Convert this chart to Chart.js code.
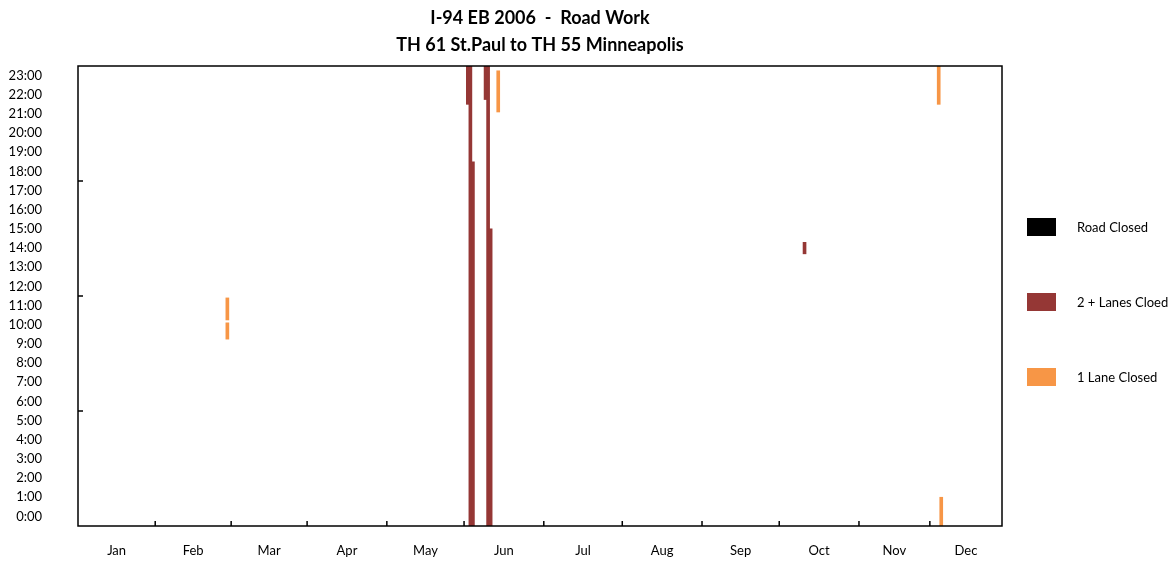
<!DOCTYPE html>
<html>
<head>
<meta charset="utf-8">
<script src="https://cdn.jsdelivr.net/npm/chart.js@4"></script>
<style>
  body { margin: 0; background: #fff; }
  canvas { display: block; }
</style>
</head>
<body>
<canvas id="roadwork" width="1174" height="563"></canvas>
<script>
// axis labels
var monthLabels = ["Jan", "Feb", "Mar", "Apr", "May", "Jun", "Jul", "Aug", "Sep", "Oct", "Nov", "Dec"];
// month boundaries on the day axis
var monthTicks = [0, 30.5, 60.5, 90.5, 122, 152.5, 184, 215, 246.5, 277, 308.5, 336.5, 365];
var hourLabels = ["0:00", "1:00", "2:00", "3:00", "4:00", "5:00", "6:00", "7:00", "8:00", "9:00", "10:00", "11:00",
  "12:00", "13:00", "14:00", "15:00", "16:00", "17:00", "18:00", "19:00", "20:00", "21:00", "22:00", "23:00"];
var hourTicks = [6, 12, 18];

// Road Closed - no closures this year
var closedDays = [];
var closedStart = [];
var closedEnd = [];

// 2 + Lanes closed
var lanes2Days = [154, 155, 156, 161, 162, 163, 287];
var lanes2Start = [22, 0, 0, 22.25, 0, 0, 14.2];
var lanes2End = [24, 24, 19, 24, 24, 15.5, 14.8];

// 1 Lane closed
var lane1Days = [59, 59, 166, 340, 341];
var lane1Start = [9.75, 10.75, 21.6, 22, 0];
var lane1End = [10.6, 11.9, 23.75, 24, 1.5];

function toBars(days, start, end) {
  var out = [];
  for (var i = 0; i < days.length; i++) {
    out.push({ x: days[i], y: [start[i], end[i]] });
  }
  return out;
}

var monthMids = [];
for (var m = 0; m < monthLabels.length; m++) {
  monthMids.push((monthTicks[m] + monthTicks[m + 1]) / 2);
}

// frame, inner tick marks and the legend on the right
var framePlugin = {
  id: "frame",
  afterDraw: function (chart) {
    var ctx = chart.ctx;
    var a = chart.chartArea;
    var xs = chart.scales.x;
    var ys = chart.scales.y;
    ctx.save();
    ctx.strokeStyle = "#000";
    ctx.lineWidth = 1.5;
    ctx.beginPath();
    for (var i = 1; i < monthTicks.length - 1; i++) {
      var px = xs.getPixelForValue(monthTicks[i]);
      ctx.moveTo(px, a.bottom);
      ctx.lineTo(px, a.bottom - 5);
    }
    for (var j = 0; j < hourTicks.length; j++) {
      var py = ys.getPixelForValue(hourTicks[j]);
      ctx.moveTo(a.left, py);
      ctx.lineTo(a.left + 5, py);
    }
    ctx.stroke();
    ctx.strokeRect(a.left, a.top, a.right - a.left, a.bottom - a.top);

    ctx.font = "13px Lato";
    ctx.textBaseline = "middle";
    var ds = chart.data.datasets;
    for (var k = 0; k < ds.length; k++) {
      var top = 218 + k * 75;
      ctx.fillStyle = ds[k].backgroundColor;
      ctx.fillRect(1027, top, 29, 18);
      ctx.fillStyle = "#000";
      ctx.fillText(ds[k].label, 1077, top + 10);
    }
    ctx.restore();
  }
};

var chart = new Chart(document.getElementById("roadwork").getContext("2d"), {
  type: "bar",
  data: {
    datasets: [
      { label: "Road Closed", data: toBars(closedDays, closedStart, closedEnd), backgroundColor: "#000000" },
      { label: "2 + Lanes Cloed", data: toBars(lanes2Days, lanes2Start, lanes2End), backgroundColor: "#953735" },
      { label: "1 Lane Closed", data: toBars(lane1Days, lane1Start, lane1End), backgroundColor: "#F79646" }
    ]
  },
  options: {
    responsive: false,
    animation: false,
    grouped: false,
    barThickness: 3,
    borderWidth: 0,
    layout: { padding: { left: 8, right: 172, top: 0, bottom: 0 } },
    plugins: {
      legend: { display: false },
      tooltip: { enabled: false },
      title: {
        display: true,
        fullSize: false,
        text: ["I-94 EB 2006  -  Road Work", "TH 61 St.Paul to TH 55 Minneapolis"],
        color: "#000",
        font: { family: "Lato", size: 18, weight: "bold", lineHeight: 1.5 },
        padding: { top: 5, bottom: 7 }
      }
    },
    scales: {
      x: {
        type: "linear",
        min: 0,
        max: 365,
        offset: false,
        grid: { display: false, drawTicks: false },
        border: { display: false },
        afterBuildTicks: function (scale) {
          scale.ticks = monthMids.map(function (v) { return { value: v }; });
        },
        afterFit: function (scale) { scale.height = 37; },
        ticks: {
          autoSkip: false,
          maxRotation: 0,
          padding: 17,
          color: "#000",
          font: { family: "Lato", size: 13 },
          callback: function (v, i) { return monthLabels[i]; }
        }
      },
      y: {
        min: 0,
        max: 24,
        grid: { display: false, drawTicks: false },
        border: { display: false },
        afterBuildTicks: function (scale) {
          scale.ticks = hourLabels.map(function (t, i) { return { value: i + 0.5 }; });
        },
        afterFit: function (scale) {
          scale.width = 70;
          scale.paddingTop = 0;
          scale.paddingBottom = 0;
        },
        ticks: {
          autoSkip: false,
          padding: 36,
          color: "#000",
          font: { family: "Lato", size: 13 },
          callback: function (v, i) { return hourLabels[i]; }
        }
      }
    }
  },
  plugins: [framePlugin]
});
</script>
</body>
</html>
